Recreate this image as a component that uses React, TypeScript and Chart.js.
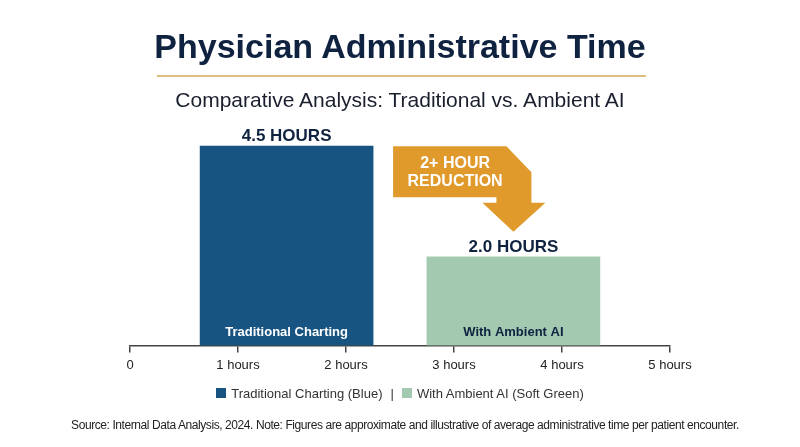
import { useEffect, useRef } from 'react';
import { Chart, registerables } from 'chart.js';
Chart.register(...registerables);

// data
const categories = ['Traditional Charting', 'With Ambient AI'];
const legendNames = ['Traditional Charting (Blue)', 'With Ambient AI (Soft Green)'];
const hours = [4.5, 2.0];
const barCentersHours = [1.45, 3.55];
const xTickLabels = ['0', '1 hours', '2 hours', '3 hours', '4 hours', '5 hours'];
const reductionLines = ['2+ HOUR', 'REDUCTION'];

const FONT = "'Liberation Sans', Arial, sans-serif";
const NAVY = '#0f2240';
const BLUE = '#175481';
const GREEN = '#a3c9b0';
const ORANGE = '#e09a2b';

const labelsPlugin = {
  id: 'barLabels',
  afterDatasetsDraw(chart: any) {
    const ctx = chart.ctx;
    const els = chart.data.datasets.map((_: any, i: number) => chart.getDatasetMeta(i).data[0]);
    ctx.save();
    ctx.textAlign = 'center';
    ctx.textBaseline = 'middle';
    els.forEach((el: any, i: number) => {
      ctx.fillStyle = NAVY;
      ctx.font = `bold 17px ${FONT}`;
      ctx.fillText(`${hours[i].toFixed(1)} HOURS`, el.x, el.y - 10);
      ctx.font = `bold 13px ${FONT}`;
      ctx.fillStyle = i === 0 ? '#ffffff' : NAVY;
      ctx.fillText(categories[i], el.x, el.base - 13);
    });

    // reduction arrow from the tall bar to the short one
    const a = els[0], b = els[1];
    const left = a.x + a.width / 2 + 20;
    const top = a.y;
    const tipX = b.x;
    const tipY = b.y - 25;
    const stemR = tipX + 18;
    const stemL = tipX - 17;
    const headY = tipY - 29;
    const bodyB = top + 51;
    ctx.fillStyle = ORANGE;
    ctx.beginPath();
    ctx.moveTo(left, top);
    ctx.lineTo(stemR - 25, top);
    ctx.lineTo(stemR, top + 26);
    ctx.lineTo(stemR, headY);
    ctx.lineTo(tipX + 32, headY);
    ctx.lineTo(tipX, tipY);
    ctx.lineTo(tipX - 31, headY);
    ctx.lineTo(stemL, headY);
    ctx.lineTo(stemL, bodyB);
    ctx.lineTo(left, bodyB);
    ctx.closePath();
    ctx.fill();
    ctx.fillStyle = '#ffffff';
    ctx.font = `bold 16px ${FONT}`;
    reductionLines.forEach((t, i) => ctx.fillText(t, left + 62, top + 17 + i * 18));
    ctx.restore();
  },
};

export default function App() {
  const canvasRef = useRef<HTMLCanvasElement>(null);

  useEffect(() => {
    const chart = new Chart(canvasRef.current!, {
      type: 'bar',
      data: {
        datasets: categories.map((name, i) => ({
          label: name,
          data: [{ x: barCentersHours[i], y: hours[i] }],
          backgroundColor: i === 0 ? BLUE : GREEN,
          barThickness: 173,
          grouped: false,
          borderWidth: 0,
        })),
      },
      options: {
        animation: false,
        responsive: true,
        maintainAspectRatio: false,
        layout: { padding: { left: 130, right: 130, top: 124, bottom: 69 } },
        plugins: { legend: { display: false }, tooltip: { enabled: false } },
        scales: {
          x: {
            type: 'linear',
            min: 0,
            max: 5,
            offset: false,
            ticks: {
              stepSize: 1,
              padding: 5,
              color: '#222',
              font: { size: 13, family: FONT },
              callback: (_v: any, idx: number) => xTickLabels[idx],
            },
            grid: { display: true, offset: false, drawOnChartArea: false, drawTicks: true, tickLength: 7, color: '#444', lineWidth: 1.5 },
            border: { display: true, color: '#444', width: 1.5 },
          },
          y: { display: false, min: 0, max: 5 },
        },
      },
      plugins: [labelsPlugin],
    });
    return () => chart.destroy();
  }, []);

  return (
    <div style={{ position: 'fixed', left: 0, top: 0, width: 800, height: 447, background: '#fff', fontFamily: FONT }}>
      <div style={{ position: 'absolute', left: 0, top: 0, width: 800, height: 447 }}>
        <canvas ref={canvasRef} />
      </div>
      <div style={{ position: 'absolute', left: 0, top: 26, width: 800, height: 40, lineHeight: '40px', textAlign: 'center', fontSize: 34, fontWeight: 'bold', color: NAVY }}>
        Physician Administrative Time
      </div>
      <div style={{ position: 'absolute', left: 157, top: 75, width: 489, height: 1.5, background: '#dcbf7f' }} />
      <div style={{ position: 'absolute', left: 0, top: 86, width: 800, height: 28, lineHeight: '28px', textAlign: 'center', fontSize: 21, color: '#1a1f2e' }}>
        Comparative Analysis: Traditional vs. Ambient AI
      </div>
      <div style={{ position: 'absolute', left: 0, top: 384, width: 800, height: 18, display: 'flex', justifyContent: 'center', alignItems: 'center', fontSize: 13, color: '#333' }}>
        {legendNames.map((n, i) => (
          <span key={n} style={{ display: 'flex', alignItems: 'center' }}>
            {i > 0 && <span style={{ margin: '0 8px' }}>|</span>}
            <span style={{ width: 10, height: 10, background: i === 0 ? BLUE : GREEN, marginRight: 5 }} />
            {n}
          </span>
        ))}
      </div>
      <div style={{ position: 'absolute', left: 5, top: 417, width: 800, height: 16, lineHeight: '16px', textAlign: 'center', fontSize: 12, letterSpacing: -0.42, color: '#222' }}>
        Source: Internal Data Analysis, 2024. Note: Figures are approximate and illustrative of average administrative time per patient encounter.
      </div>
    </div>
  );
}
